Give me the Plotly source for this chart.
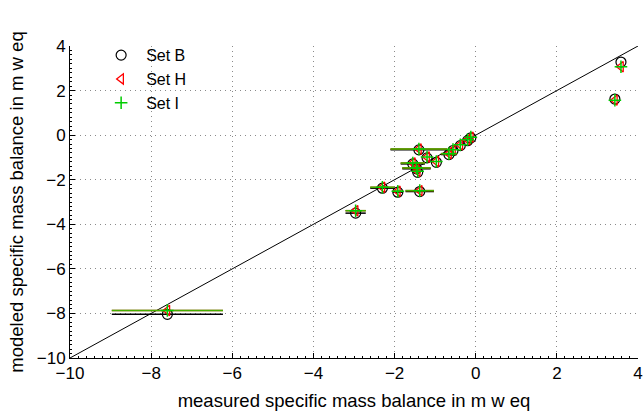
import plotly.graph_objects as go

# measured specific mass balance (x) shared by all sets
measured = [3.58, 3.43, -7.60, -2.96, -1.40, -1.20, -0.97, -0.66, -0.56, -0.38,
            -0.20, -0.12, -1.55, -1.46, -1.43, -2.30, -1.92, -1.38]
# horizontal uncertainty of the measurement
measured_err = [0.0, 0.0, 1.37, 0.25, 0.70, 0.0, 0.0, 0.20, 0.0, 0.0,
                0.0, 0.0, 0.30, 0.35, 0.0, 0.30, 0.12, 0.35]
# modeled values per set
set_b = [3.28, 1.62, -8.04, -3.50, -0.66, -1.02, -1.22, -0.87, -0.69, -0.47,
         -0.25, -0.12, -1.29, -1.51, -1.67, -2.38, -2.56, -2.53]
set_h = [3.07, 1.57, -7.87, -3.39, -0.62, -0.98, -1.18, -0.83, -0.65, -0.43,
         -0.21, -0.09, -1.25, -1.47, -1.62, -2.34, -2.52, -2.49]
set_i = [3.07, 1.57, -7.87, -3.39, -0.62, -0.98, -1.18, -0.83, -0.65, -0.43,
         -0.21, -0.09, -1.25, -1.47, -1.62, -2.34, -2.52, -2.49]

diag = [-10, 4]
tick_vals = [-10, -8, -6, -4, -2, 0, 2, 4]
tick_text = ["\u221210", "\u22128", "\u22126", "\u22124", "\u22122", "0", "2", "4"]

fig = go.Figure()
fig.add_trace(go.Scatter(x=diag, y=diag, mode="lines", line=dict(color="black", width=1),
                         showlegend=False, hoverinfo="skip"))

sets = [
    ("Set B", set_b, "black", "circle-open", 10, 1.2, "black"),
    ("Set H", set_h, "#ff0000", "triangle-left-open", 9, 1.3, "#b03000"),
    ("Set I", set_i, "#00cc00", "cross-thin-open", 9, 1.5, "#44b000"),
]
for name, ys, col, sym, size, lw, ecol in sets:
    fig.add_trace(go.Scatter(
        x=measured, y=ys, mode="markers", name=name,
        marker=dict(symbol=sym, size=size, color=col, line=dict(color=col, width=lw)),
        error_x=dict(type="data", array=measured_err, symmetric=True, color=ecol,
                     thickness=1.5, width=0),
    ))

axis_common = dict(
    showline=True, linecolor="black", linewidth=1,
    showgrid=True, gridcolor="#8a8a8a", griddash="1px,4px", gridwidth=1,
    zeroline=False, ticks="inside", ticklen=5, tickcolor="black",
    tickfont=dict(family="Liberation Sans, Arial, sans-serif", size=17, color="black"),
    tickmode="array", tickvals=tick_vals, ticktext=tick_text,
    mirror=False, automargin=False, ticklabeloverflow="allow",
    minor=dict(dtick=0.2, ticks="inside", ticklen=2, tickcolor="black", showgrid=False),
)

fig.update_layout(
    width=643, height=418,
    margin=dict(l=70, r=5, t=46, b=60),
    paper_bgcolor="white", plot_bgcolor="white",
    font=dict(family="Liberation Sans, Arial, sans-serif", color="black"),
    xaxis=dict(range=[-10, 4], title=dict(text="measured specific mass balance in m w eq",
                                          font=dict(size=18.5), standoff=11), **axis_common),
    yaxis=dict(range=[-10, 4], title=dict(text="modeled specific mass balance in m w eq",
                                          font=dict(size=18.5), standoff=8), **axis_common),
    legend=dict(x=0.046, y=1.025, xanchor="left", yanchor="top", bgcolor="rgba(0,0,0,0)",
                font=dict(size=16), borderwidth=0, itemwidth=40),
)

fig.write_html("out.html")
